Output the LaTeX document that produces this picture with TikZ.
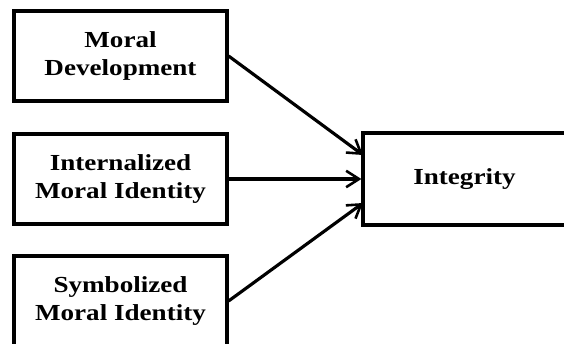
\documentclass[tikz,border=0pt]{standalone}
\usepackage{fontspec}
\setmainfont{Liberation Serif}[FakeStretch=1.18]
\usetikzlibrary{arrows.meta}
\begin{document}
\begin{tikzpicture}[x=0.03cm, y=-0.03cm, line width=2.7pt, >={Straight Barb[length=11pt,width=14pt,line width=2.2pt]},
  main node/.style={draw, rectangle, align=center, inner sep=0pt, font=\fontsize{19.6}{23.8}\selectfont\bfseries}]
\useasboundingbox (0,0) rectangle (564,344);
\clip (0,0) rectangle (564,344);
\node[main node, minimum width=6.39cm, minimum height=2.7cm] (dev) at (120.5,56) {Moral\\Development};
\node[main node, minimum width=6.39cm, minimum height=2.7cm] (intl) at (120.5,179) {Internalized\\Moral Identity};
\node[main node, minimum width=6.39cm, minimum height=2.7cm] (symb) at (120.5,301) {Symbolized\\Moral Identity};
\node[main node, minimum width=6.09cm, minimum height=2.76cm] (integ) at (464.5,179) {Integrity};
\coordinate (in1) at (363,155);
\coordinate (in3) at (363,203);
\draw[->] (dev.east) -- (in1);
\draw[->] (intl.east) -- (integ.west);
\draw[->] (symb.east) -- (in3);
\end{tikzpicture}
\end{document}
